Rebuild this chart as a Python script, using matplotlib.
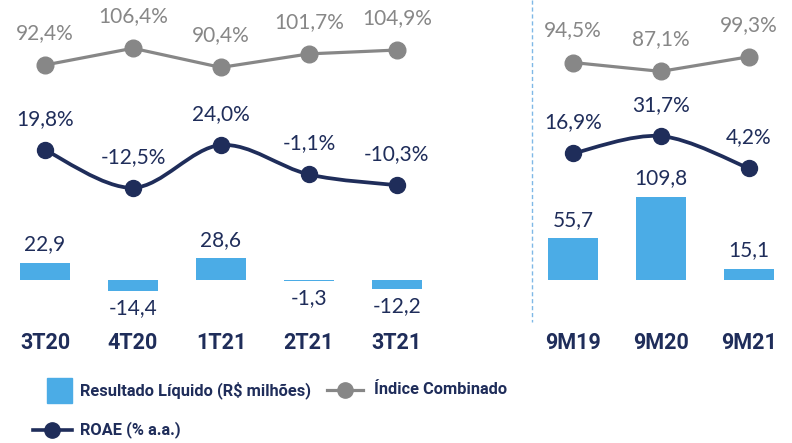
import matplotlib
matplotlib.use("Agg")
import matplotlib.pyplot as plt
from matplotlib.path import Path
from matplotlib.patches import PathPatch, Rectangle
from matplotlib.lines import Line2D
import numpy as np

plt.rcParams['font.family'] = ['Lato', 'DejaVu Sans']
BOLD = ['Roboto', 'DejaVu Sans']

# dados
cats_tri = ['3T20', '4T20', '1T21', '2T21', '3T21']
cats_ano = ['9M19', '9M20', '9M21']
resultado_tri = [22.9, -14.4, 28.6, -1.3, -12.2]
resultado_ano = [55.7, 109.8, 15.1]
indice_tri = [92.4, 106.4, 90.4, 101.7, 104.9]
indice_ano = [94.5, 87.1, 99.3]
roae_tri = [19.8, -12.5, 24.0, -1.1, -10.3]
roae_ano = [16.9, 31.7, 4.2]

AZUL = '#4BACE6'
MARINHO = '#1F2D5A'
CINZA = '#878787'
FS = 15
FS_LEG = 11.8

x_tri = np.arange(len(cats_tri))
x_ano = np.arange(len(cats_ano)) + 6

fig = plt.figure(figsize=(7.92, 4.43), dpi=100)
ax = fig.add_axes([0, 0, 1, 1])
ax_ind = ax.twinx()
ax_roae = ax.twinx()
for a in (ax, ax_ind, ax_roae):
    a.set_xlim(-0.511, 8.49)
    a.axis('off')
ax.set_ylim(-214.5, 368.4)
ax_ind.set_ylim(-222.6, 146.6)
ax_roae.set_ylim(-230.6, 148.0)


def fmt(v, pct=False):
    s = f'{v:.1f}'.replace('.', ',')
    return s + '%' if pct else s


def smooth(a, xs, ys, **kw):
    # curva suave estilo Excel (Bezier Catmull-Rom)
    pts = np.column_stack([xs, ys]).astype(float)
    ext = np.vstack([pts[0], pts, pts[-1]])
    verts = [pts[0]]
    codes = [Path.MOVETO]
    for i in range(len(pts) - 1):
        p0, p1, p2, p3 = ext[i], ext[i + 1], ext[i + 2], ext[i + 3]
        verts += [p1 + (p2 - p0) / 6, p2 - (p3 - p1) / 6, p2]
        codes += [Path.CURVE4] * 3
    a.add_patch(PathPatch(Path(verts, codes), fill=False, **kw))


# barras
for xs, vals in ((x_tri, resultado_tri), (x_ano, resultado_ano)):
    ax.bar(xs, vals, width=0.56, color=AZUL)
    for xv, v in zip(xs, vals):
        off = 18 if v >= 0 else -17
        ax.annotate(fmt(v), (xv, v), xytext=(0, off * 0.72), textcoords='offset points',
                    ha='center', va='center', fontsize=FS, color=MARINHO)

# índice combinado
for xs, vals in ((x_tri, indice_tri), (x_ano, indice_ano)):
    ax_ind.plot(xs, vals, color=CINZA, lw=2.3, marker='o', ms=12, zorder=3)
    for xv, v in zip(xs, vals):
        ax_ind.annotate(fmt(v, True), (xv, v), xytext=(0, 32 * 0.72), textcoords='offset points',
                        ha='center', va='center', fontsize=FS, color=CINZA)

# ROAE
for xs, vals in ((x_tri, roae_tri), (x_ano, roae_ano)):
    smooth(ax_roae, xs, vals, edgecolor=MARINHO, lw=2.7, zorder=2)
    ax_roae.plot(xs, vals, ls='none', color=MARINHO, marker='o', ms=11.5, zorder=3)
    for xv, v in zip(xs, vals):
        ax_roae.annotate(fmt(v, True), (xv, v), xytext=(0, 31 * 0.72), textcoords='offset points',
                         ha='center', va='center', fontsize=FS, color=MARINHO)

# rótulos das categorias
for xs, cats in ((x_tri, cats_tri), (x_ano, cats_ano)):
    for xv, c in zip(xs, cats):
        ax.text(xv, -83, c, ha='center', va='center', fontsize=15.5, fontweight='bold',
                color=MARINHO, family=BOLD)

# separador
fig.add_artist(Line2D([531.5 / 792, 531.5 / 792], [1, 1 - 322 / 443], color='#7FB8E6',
                      lw=1, ls=(0, (3, 2))))

# legenda
W, H = 792, 443
fig.add_artist(Rectangle((47 / W, 1 - 403 / H), 25 / W, 25 / H, color=AZUL))
fig.text(80 / W, 1 - 390 / H, 'Resultado Líquido (R$ milhões)', fontsize=FS_LEG, fontweight='bold',
         color=MARINHO, va='center', family=BOLD)
fig.add_artist(Line2D([327 / W, 363 / W], [1 - 390 / H] * 2, color=CINZA, lw=2.3))
fig.add_artist(Line2D([345 / W], [1 - 390 / H], color=CINZA, marker='o', ms=11))
fig.text(374 / W, 1 - 390 / H, 'Índice Combinado', fontsize=FS_LEG, fontweight='bold',
         color=MARINHO, va='center', family=BOLD)
fig.add_artist(Line2D([33 / W, 72 / W], [1 - 430 / H] * 2, color=MARINHO, lw=2.6))
fig.add_artist(Line2D([52 / W], [1 - 430 / H], color=MARINHO, marker='o', ms=11))
fig.text(80 / W, 1 - 430 / H, 'ROAE (% a.a.)', fontsize=FS_LEG, fontweight='bold',
         color=MARINHO, va='center', family=BOLD)

fig.savefig('out.png', dpi=100)
